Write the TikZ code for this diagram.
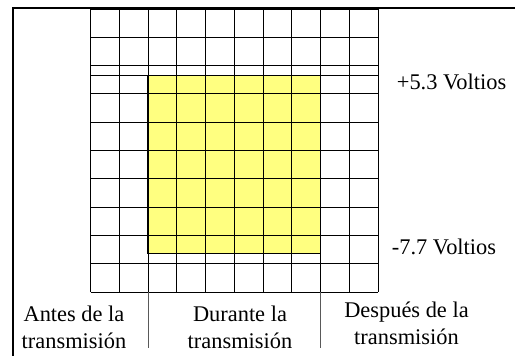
\documentclass[tikz,border=0pt]{standalone}
\usepackage{fontspec}
\setmainfont{Liberation Serif}
\usepackage{xcolor}
\usepackage{tikz}
\usetikzlibrary{positioning,backgrounds}

\definecolor{pulso}{HTML}{FFFF80}

\begin{document}
\begin{tikzpicture}[
    x=1pt, y=-1pt,
    frame/.style={draw=black, line width=1.8pt},
    gridline/.style={draw=black, line width=1pt},
    divider/.style={draw=black!65, line width=1pt},
    pulse/.style={fill=pulso, draw=black, line width=1.4pt},
    label/.style={inner sep=0pt, align=center, font=\fontsize{22.4}{26.6}\selectfont},
    volt/.style={inner sep=0pt, anchor=base west, font=\fontsize{22.4}{26.6}\selectfont}
]
\useasboundingbox (0,0) rectangle (515,356);

% marco
\draw[frame] (515,8) -- (13,8) -- (13,356);

% pulso
\path[pulse] (148,75.3) rectangle (320.5,253.3);

% rejilla
\foreach \i in {0,...,10} {
    \draw[gridline] (90.5+\i*28.75,9) -- (90.5+\i*28.75,292.3);
    \draw[gridline] (90.5,9+\i*28.33) -- (378,9+\i*28.33);
}
\draw[gridline] (90.5,75.3) -- (378,75.3);

% divisiones
\coordinate (d1) at (148,292.3);
\coordinate (d2) at (320.5,292.3);
\draw[divider] (d1) -- ++(0,56);
\draw[divider] (d2) -- ++(0,56);

\node[volt] (alto) at (396.7,89.3) {+5.3 Voltios};
\node[volt] (bajo) at (391.7,254.3) {-7.7 Voltios};

\node[label, anchor=base] (antes) at (74,348.3) {Antes de la\\transmisión};
\node[label, anchor=base] (durante) at (240,348.3) {Durante la\\transmisión};
\node[label, anchor=base] (despues) at (406.5,344.3) {Después de la\\transmisión};

\end{tikzpicture}
\end{document}
